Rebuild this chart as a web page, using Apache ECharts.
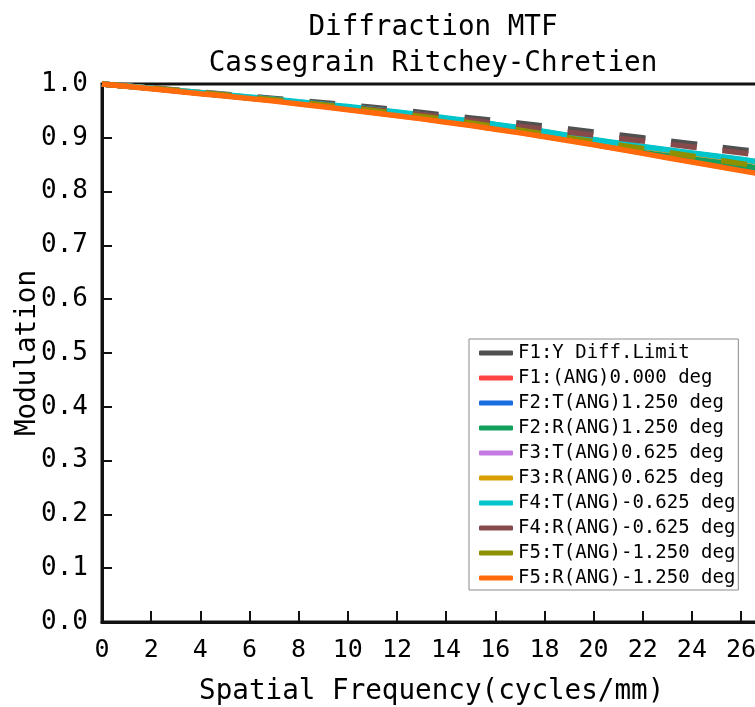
<!DOCTYPE html>
<html>
<head>
<meta charset="utf-8">
<script src="https://cdn.jsdelivr.net/npm/echarts@6/dist/echarts.min.js"></script>
<style>
html,body{margin:0;padding:0;background:#fff;}
#chart{width:755px;height:707px;}
</style>
</head>
<body>
<div id="chart"></div>
<script>
// Spatial frequency samples (cycles/mm)
var freqs = [0, 2, 4, 6, 8, 10, 12, 14, 16, 18, 20, 22, 24, 26, 28, 30];

var seriesNames = [
  'F1:Y Diff.Limit',
  'F1:(ANG)0.000 deg',
  'F2:T(ANG)1.250 deg',
  'F2:R(ANG)1.250 deg',
  'F3:T(ANG)0.625 deg',
  'F3:R(ANG)0.625 deg',
  'F4:T(ANG)-0.625 deg',
  'F4:R(ANG)-0.625 deg',
  'F5:T(ANG)-1.250 deg',
  'F5:R(ANG)-1.250 deg'
];

var diffLimit = [1.000, 0.993, 0.985, 0.977, 0.969, 0.961, 0.952, 0.942, 0.932, 0.922, 0.911, 0.900, 0.889, 0.878, 0.867, 0.855];
var f1Ang000  = [1.000, 0.992, 0.983, 0.974, 0.964, 0.953, 0.942, 0.930, 0.917, 0.903, 0.888, 0.872, 0.856, 0.840, 0.824, 0.807];
var f2T       = [1.000, 0.992, 0.983, 0.974, 0.965, 0.955, 0.944, 0.932, 0.920, 0.906, 0.892, 0.878, 0.863, 0.848, 0.833, 0.817];
var f2R       = [1.000, 0.992, 0.983, 0.974, 0.965, 0.955, 0.944, 0.933, 0.921, 0.907, 0.893, 0.879, 0.864, 0.849, 0.834, 0.818];
var f3T       = [1.000, 0.992, 0.984, 0.975, 0.966, 0.957, 0.947, 0.936, 0.924, 0.911, 0.895, 0.883, 0.871, 0.859, 0.846, 0.833];
var f3R       = [1.000, 0.992, 0.984, 0.975, 0.966, 0.957, 0.947, 0.936, 0.924, 0.911, 0.896, 0.883, 0.871, 0.859, 0.846, 0.833];
var f4T       = [1.000, 0.992, 0.984, 0.976, 0.967, 0.958, 0.948, 0.937, 0.925, 0.912, 0.897, 0.884, 0.872, 0.860, 0.847, 0.834];
var f4R       = [1.000, 0.992, 0.984, 0.975, 0.966, 0.957, 0.948, 0.938, 0.927, 0.916, 0.905, 0.894, 0.883, 0.872, 0.861, 0.849];
var f5T       = [1.000, 0.992, 0.984, 0.975, 0.966, 0.956, 0.945, 0.934, 0.921, 0.907, 0.893, 0.880, 0.866, 0.852, 0.838, 0.824];
var f5R       = [1.000, 0.991, 0.982, 0.973, 0.963, 0.952, 0.941, 0.929, 0.916, 0.902, 0.887, 0.871, 0.855, 0.839, 0.823, 0.806];

var allValues = [diffLimit, f1Ang000, f2T, f2R, f3T, f3R, f4T, f4R, f5T, f5R];
var colors = ['#505050', '#ff4343', '#1a6de0', '#13a05c', '#c47ae2', '#d99e00', '#00c6cc', '#874a4b', '#8f9000', '#ff6a0c'];
var dashed = [true, false, false, false, false, false, false, true, true, false];

var yTicks = [0, 0.1, 0.2, 0.3, 0.4, 0.5, 0.6, 0.7, 0.8, 0.9, 1.0];

var FONT = 'DejaVu Sans Mono';

function pairs(vals) {
  return freqs.map(function (f, i) { return [f, vals[i]]; });
}

var series = seriesNames.map(function (name, i) {
  return {
    name: name,
    type: 'line',
    data: pairs(allValues[i]),
    showSymbol: false,
    symbol: 'none',
    smooth: true,
    clip: true,
    color: colors[i],
    lineStyle: {
      width: 5.5,
      color: colors[i],
      type: dashed[i] ? [26, 26] : 'solid',
      cap: 'butt'
    },
    z: 2 + i
  };
});

var chart = echarts.init(document.getElementById('chart'), null, {renderer: 'canvas'});
chart.setOption({
  animation: false,
  backgroundColor: '#ffffff',
  title: {
    text: 'Diffraction MTF\nCassegrain Ritchey-Chretien',
    left: 433,
    top: 10,
    padding: 0,
    textAlign: 'center',
    textStyle: {
      fontFamily: FONT,
      fontSize: 27.6,
      fontWeight: 'normal',
      color: '#000',
      lineHeight: 36
    }
  },
  legend: {
    orient: 'vertical',
    left: 469,
    top: 339,
    padding: [4, 3, 2, 10],
    itemGap: 5,
    itemWidth: 34,
    itemHeight: 5,
    icon: 'roundRect',
    borderColor: '#8a8a8a',
    borderWidth: 1,
    backgroundColor: '#ffffff',
    textStyle: {
      fontFamily: FONT,
      fontSize: 19,
      color: '#000',
      lineHeight: 20
    },
    data: seriesNames
  },
  grid: {
    left: 102,
    top: 84,
    width: 737.4,
    height: 538,
    outerBoundsMode: 'none',
    show: true,
    borderColor: '#111',
    borderWidth: 3,
    containLabel: false
  },
  xAxis: {
    type: 'value',
    min: 0,
    max: 30,
    interval: 2,
    name: 'Spatial Frequency(cycles/mm)',
    nameLocation: 'middle',
    nameGap: 56,
    nameTextStyle: {
      fontFamily: FONT,
      fontSize: 27.6,
      color: '#000',
      padding: [0, 78, 0, 0]
    },
    axisLine: {show: true, lineStyle: {color: '#111', width: 3}},
    axisTick: {show: true, inside: true, length: 11, lineStyle: {color: '#111', width: 2}},
    axisLabel: {
      fontFamily: FONT,
      fontSize: 25,
      color: '#000',
      margin: 16
    },
    splitLine: {show: false}
  },
  yAxis: {
    type: 'value',
    min: 0,
    max: 1,
    interval: 0.1,
    name: 'Modulation',
    nameLocation: 'middle',
    nameGap: 60,
    nameMoveOverlap: false,
    nameRotate: 90,
    nameTextStyle: {
      fontFamily: FONT,
      fontSize: 27.6,
      color: '#000'
    },
    axisLine: {show: true, lineStyle: {color: '#111', width: 3}},
    axisTick: {show: true, inside: true, length: 10, lineStyle: {color: '#111', width: 2}},
    axisLabel: {
      fontFamily: FONT,
      fontSize: 26,
      color: '#000',
      margin: 14,
      formatter: function (v) { return v.toFixed(1); }
    },
    splitLine: {show: false}
  },
  series: series
});
</script>
</body>
</html>
